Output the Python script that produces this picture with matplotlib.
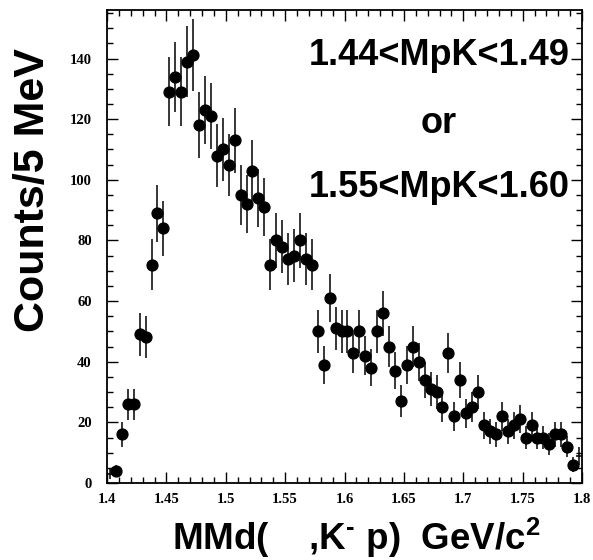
import numpy as np
import matplotlib
matplotlib.use('Agg')
import matplotlib.pyplot as plt
from matplotlib.ticker import MultipleLocator

plt.rcParams['mathtext.fontset'] = 'custom'
plt.rcParams['mathtext.rm'] = 'Liberation Sans:bold'
plt.rcParams['mathtext.bf'] = 'Liberation Sans:bold'
plt.rcParams['mathtext.it'] = 'Liberation Sans:bold'

# 5 MeV bins from 1.40 to 1.80 GeV
bin_lo = 1.40
bin_width = 0.005
counts = [3, 4, 16, 26, 26, 49, 48, 72, 89, 84,
          129, 134, 129, 139, 141, 118, 123, 121, 108, 110,
          105, 113, 95, 92, 103, 94, 91, 72, 80, 78,
          74, 75, 80, 74, 72, 50, 39, 61, 51, 50,
          50, 43, 50, 42, 38, 50, 56, 45, 37, 27,
          39, 45, 40, 34, 31, 30, 25, 43, 22, 34,
          23, 25, 30, 19, 17, 16, 22, 17, 19, 21,
          15, 19, 15, 15, 13, 16, 16, 12, 6, 9]
cut_lines = ['1.44<MpK<1.49', 'or', '1.55<MpK<1.60']

counts = np.array(counts, dtype=float)
centers = bin_lo + bin_width * (np.arange(len(counts)) + 0.5)
errors = np.sqrt(counts)
xlo, xhi = 1.4, 1.8

fig = plt.figure(figsize=(5.93, 5.60), dpi=100)
ax = fig.add_axes([107/593, 77/560, 475/593, 473/560])

# error bars (bin width horizontally, sqrt(N) vertically)
ax.errorbar(centers, counts, yerr=errors, xerr=bin_width/2, fmt='none',
            ecolor='black', elinewidth=1.1, capsize=0)
# markers only where they sit fully inside the frame
inside = (centers - xlo > 0.004) & (xhi - centers > 0.004)
ax.plot(centers[inside], counts[inside], 'o', color='black', markersize=7.8)

ax.set_xlim(xlo, xhi)
ax.set_ylim(0, 156)

ax.xaxis.set_major_locator(MultipleLocator(0.05))
ax.xaxis.set_minor_locator(MultipleLocator(0.01))
ax.yaxis.set_major_locator(MultipleLocator(20))
ax.yaxis.set_minor_locator(MultipleLocator(5))
ax.tick_params(which='both', direction='in', top=True, right=True, width=1.0)
ax.tick_params(which='major', length=8)
ax.tick_params(which='minor', length=4)
ax.tick_params(axis='x', which='major', pad=7)
ax.tick_params(axis='y', which='major', pad=11)
ax.set_xticks(np.arange(1.4, 1.801, 0.05))
ax.set_xticklabels(['1.4', '1.45', '1.5', '1.55', '1.6', '1.65', '1.7', '1.75', '1.8'])
for lab in ax.get_xticklabels() + ax.get_yticklabels():
    lab.set_fontfamily('Liberation Serif')
    lab.set_fontweight('bold')
    lab.set_fontsize(10.5)
for sp in ax.spines.values():
    sp.set_linewidth(1.3)

ax.set_xlabel(r'MMd(    ,K$^{\text{-}}$ p)  GeV/c$^{2}$', fontfamily='Liberation Sans',
              fontweight='bold', fontsize=26.5)
ax.xaxis.set_label_coords(0.524, -0.07)
ax.set_ylabel('Counts/5 MeV', fontfamily='Liberation Sans', fontweight='bold',
              fontsize=31, va='center')
ax.yaxis.set_label_coords(-0.155, 0.62)

for txt, yy in zip(cut_lines, [0.884, 0.741, 0.605]):
    ax.text(0.699, yy, txt, transform=ax.transAxes, ha='center', va='baseline',
            fontfamily='Liberation Sans', fontweight='bold', fontsize=26)

fig.savefig('out.png', dpi=100)
